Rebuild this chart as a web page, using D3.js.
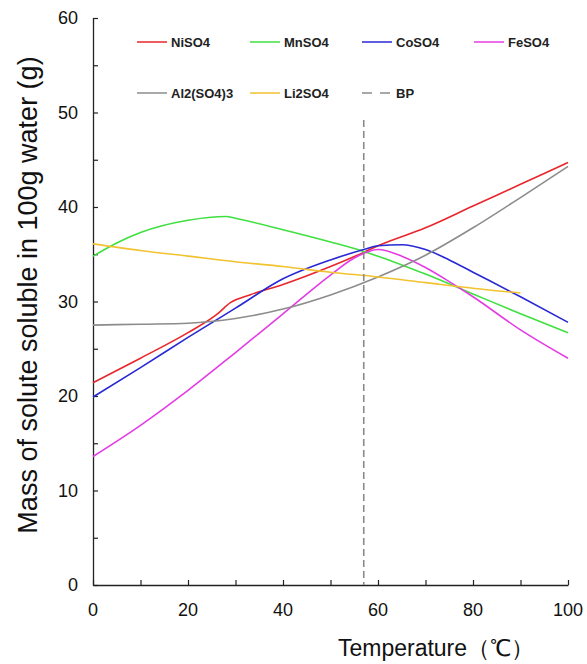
<!DOCTYPE html>
<html>
<head>
<meta charset="utf-8">
<script src="https://cdn.jsdelivr.net/npm/d3@7"></script>
<style>
  body { margin: 0; background: #fff; }
  svg text { font-family: Arial, "Liberation Sans", sans-serif; }
</style>
</head>
<body>
<div id="chart"></div>
<script>
// data: [temperature, mass]
const niso4 = [[0,21.4],[10,24.0],[20,26.7],[26,28.6],[29,29.9],[33,30.7],[40,31.8],[50,33.7],[57,35.2],[60,35.9],[70,37.8],[80,40.1],[90,42.4],[100,44.7]]
const mnso4 = [[0,34.8],[5,36.2],[10,37.3],[20,38.6],[28,39.0],[30,38.8],[40,37.6],[50,36.3],[57,35.3],[60,34.8],[70,32.9],[80,30.8],[90,28.7],[100,26.7]]
const coso4 = [[0,19.9],[10,23.0],[20,26.2],[30,29.3],[40,32.4],[50,34.4],[57,35.5],[60,35.9],[65,36.0],[70,35.5],[75,34.4],[80,33.1],[90,30.5],[100,27.8]]
const feso4 = [[0,13.6],[10,16.9],[20,20.6],[30,24.6],[40,28.7],[50,32.8],[55,34.6],[60,35.5],[65,34.8],[70,33.6],[75,32.1],[80,30.5],[90,27.0],[100,24.0]]
const al2so43 = [[0,27.5],[10,27.6],[20,27.7],[30,28.2],[40,29.2],[50,30.7],[60,32.6],[70,34.9],[80,37.8],[90,41.0],[100,44.3]]
const li2so4 = [[0,36.1],[10,35.4],[20,34.8],[30,34.2],[40,33.7],[50,33.1],[60,32.6],[70,32.0],[80,31.4],[90,30.9]]
const bpTemp = 57
const bpRange = [0, 49.2]

const xTicks = [0, 20, 40, 60, 80, 100]
const yTicks = [0, 10, 20, 30, 40, 50, 60]

const series = [
  { name: "NiSO4", values: niso4, color: "#e8262b" },
  { name: "MnSO4", values: mnso4, color: "#3fe03f" },
  { name: "CoSO4", values: coso4, color: "#2828d4" },
  { name: "FeSO4", values: feso4, color: "#e43ce4" },
  { name: "Al2(SO4)3", values: al2so43, color: "#8c8c8c" },
  { name: "Li2SO4", values: li2so4, color: "#f2c230" },
]

const width = 587
const height = 664
const margin = { top: 18, right: 19, bottom: 79, left: 93 }

const svg = d3.select("#chart")
  .append("svg")
    .attr("width", width)
    .attr("height", height)

const xScale = d3.scaleLinear()
  .domain([0, 100])
  .range([margin.left, width - margin.right])

const yScale = d3.scaleLinear()
  .domain([0, 60])
  .range([height - margin.bottom, margin.top])

// axes: ticks point inward, labels drawn separately
const xAxis = svg.append("g")
  .attr("transform", `translate(0,${yScale(0)})`)
  .call(d3.axisBottom(xScale).tickValues(d3.range(0, 101, 10)).tickSizeInner(-5).tickSizeOuter(0).tickFormat(""))
xAxis.select(".domain").attr("stroke", "#222").attr("stroke-width", 1.3)
xAxis.selectAll(".tick line").attr("stroke", "#222").attr("stroke-width", 1.2)

const yAxis = svg.append("g")
  .attr("transform", `translate(${xScale(0)},0)`)
  .call(d3.axisLeft(yScale).tickValues(d3.range(0, 61, 5)).tickSizeInner(-5).tickSizeOuter(0).tickFormat(""))
yAxis.select(".domain").attr("stroke", "#222").attr("stroke-width", 1.3)
yAxis.selectAll(".tick line").attr("stroke", "#222").attr("stroke-width", 1.2)

svg.append("g").selectAll("text")
  .data(xTicks)
  .join("text")
    .attr("x", d => xScale(d))
    .attr("y", yScale(0) + 31)
    .attr("text-anchor", "middle")
    .attr("font-size", 18)
    .attr("fill", "#111")
    .text(d => d)

svg.append("g").selectAll("text")
  .data(yTicks)
  .join("text")
    .attr("x", 78)
    .attr("y", d => yScale(d) + 6)
    .attr("text-anchor", "end")
    .attr("font-size", 18)
    .attr("fill", "#111")
    .text(d => d)

// axis titles
svg.append("text")
  .attr("transform", `translate(37,${295}) rotate(-90)`)
  .attr("text-anchor", "middle")
  .attr("font-size", 27)
  .attr("fill", "#111")
  .text("Mass of solute soluble in 100g water (g)")

svg.append("text")
  .attr("x", 436)
  .attr("y", 656)
  .attr("text-anchor", "middle")
  .attr("font-size", 23)
  .attr("fill", "#111")
  .text("Temperature（℃）")

// lines
const line = d3.line()
  .x(d => xScale(d[0]))
  .y(d => yScale(d[1]))
  .curve(d3.curveMonotoneX)

svg.append("g").selectAll("path")
  .data(series)
  .join("path")
    .attr("d", d => line(d.values))
    .attr("fill", "none")
    .attr("stroke", d => d.color)
    .attr("stroke-width", 1.6)

// BP dashed line
svg.append("line")
  .attr("x1", xScale(bpTemp))
  .attr("x2", xScale(bpTemp))
  .attr("y1", yScale(bpRange[1]))
  .attr("y2", yScale(bpRange[0]))
  .attr("stroke", "#8a8a8a")
  .attr("stroke-width", 1.6)
  .attr("stroke-dasharray", "7,4")

// legend
const legendItems = [
  ...series.map(s => ({ name: s.name, color: s.color, dash: null })),
  { name: "BP", color: "#8a8a8a", dash: "10,8" },
]
const legendX = [137, 250, 362, 474]
const legendY = [42, 93]

const legend = svg.append("g").selectAll("g")
  .data(legendItems)
  .join("g")
    .attr("transform", (d, i) => `translate(${legendX[i % 4]},${legendY[Math.floor(i / 4)]})`)

legend.append("line")
  .attr("x1", 0)
  .attr("x2", 30)
  .attr("stroke", d => d.color)
  .attr("stroke-width", 1.5)
  .attr("stroke-dasharray", d => d.dash)

legend.append("text")
  .attr("x", 34)
  .attr("y", 4.5)
  .attr("font-size", 13)
  .attr("font-weight", "bold")
  .attr("fill", "#222")
  .text(d => d.name)
</script>
</body>
</html>
